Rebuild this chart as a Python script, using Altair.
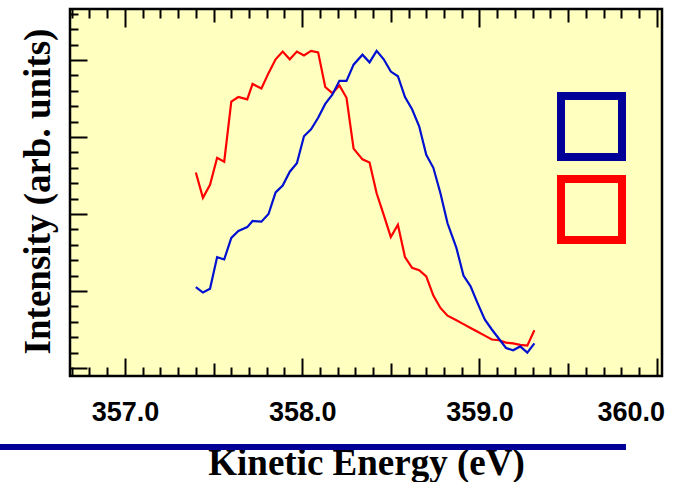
import altair as alt
import pandas as pd

# ---- data ----
energy = [357.40, 357.44, 357.48, 357.52, 357.56, 357.60, 357.64, 357.69, 357.72, 357.77,
          357.81, 357.85, 357.89, 357.93, 357.97, 358.01, 358.05, 358.09, 358.13, 358.17,
          358.21, 358.25, 358.29, 358.34, 358.38, 358.42, 358.46, 358.50, 358.54, 358.58,
          358.62, 358.66, 358.70, 358.74, 358.78, 358.82, 358.87, 358.91, 358.95, 358.99,
          359.03, 359.07, 359.11, 359.15, 359.19, 359.23, 359.27, 359.31]

red_intensity = [2.54, 2.21, 2.38, 2.73, 2.68, 3.46, 3.52, 3.49, 3.69, 3.63,
                 3.83, 4.01, 4.11, 4.01, 4.11, 4.06, 4.12, 4.10, 3.65, 3.57,
                 3.67, 3.51, 2.85, 2.71, 2.67, 2.27, 1.99, 1.70, 1.86, 1.44,
                 1.30, 1.27, 1.19, 0.94, 0.78, 0.68, 0.62, 0.57, 0.52, 0.47,
                 0.42, 0.37, 0.36, 0.33, 0.32, 0.30, 0.29, 0.49]

blue_intensity = [1.05, 0.98, 1.03, 1.44, 1.41, 1.69, 1.78, 1.83, 1.91, 1.90,
                  2.00, 2.28, 2.37, 2.55, 2.66, 3.01, 3.10, 3.25, 3.43, 3.55,
                  3.73, 3.73, 3.94, 4.07, 3.97, 4.12, 4.01, 3.85, 3.79, 3.52,
                  3.36, 3.14, 2.77, 2.60, 2.27, 1.88, 1.56, 1.20, 1.06, 0.84,
                  0.63, 0.50, 0.38, 0.26, 0.23, 0.28, 0.20, 0.32]

series_names = ["Spectrum 1", "Spectrum 2"]          # blue, red
legend_keys = ["1", "2"]                              # unlabeled legend boxes, same order
line_colors = ["#0010D0", "#FF0000"]
legend_colors = ["#000099", "#FF0000"]

x_label_values = [357.0, 358.0, 359.0, 360.0]
x_tick_values = [round(356.7 + 0.1 * i, 1) for i in range(34)]
y_tick_values = [round(0.2 * i, 1) for i in range(24)]

x_domain = [356.69, 360.03]
y_domain = [-0.104, 4.663]

df = pd.concat([
    pd.DataFrame({"energy": energy, "intensity": red_intensity,
                  "series": series_names[1], "key": legend_keys[1]}),
    pd.DataFrame({"energy": energy, "intensity": blue_intensity,
                  "series": series_names[0], "key": legend_keys[0]}),
], ignore_index=True)

W, H = 592, 367
xs = alt.Scale(domain=x_domain, nice=False, zero=False)
ys = alt.Scale(domain=y_domain, nice=False, zero=False)

major = "abs(datum.value - round(datum.value)) < 0.001"
half = "abs(datum.value * 2 - round(datum.value * 2)) < 0.001"
x_tick_size = {"condition": [{"test": major, "value": 18}, {"test": half, "value": 13}], "value": 9}
y_tick_size = {"condition": {"test": major, "value": 17}, "value": 8}

base = alt.Chart(df)

lines = base.mark_line(strokeWidth=2.2).encode(
    x=alt.X("energy:Q", scale=xs, axis=alt.Axis(
        orient="bottom", values=x_label_values, format=".1f", ticks=False, tickSize=0,
        domain=False, grid=False, labelOverlap=False, labelBound=False,
        labelFont="Liberation Sans", labelFontWeight="bold", labelFontSize=27,
        labelColor="black", labelBaseline="alphabetic", labelPadding=44,
        labelOffset={"condition": {"test": "datum.value == 360", "value": -26}, "value": 0},
        title="Kinetic Energy (eV)", titleFont="Liberation Serif", titleFontWeight="bold",
        titleFontSize=37, titleColor="black", titleX=296, titleY=98,
        titleAlign="center", titleBaseline="alphabetic")),
    y=alt.Y("intensity:Q", scale=ys, axis=alt.Axis(
        orient="left", labels=False, ticks=False, domain=False, grid=False,
        title="Intensity (arb. units)", titleFont="Liberation Serif", titleFontWeight="bold",
        titleFontSize=37, titleColor="black", titleX=-32, titleY=182, titleAngle=270,
        titleAlign="center", titleBaseline="middle")),
    color=alt.Color("series:N", scale=alt.Scale(domain=series_names, range=line_colors), legend=None),
)

ticks_bl = base.mark_point(opacity=0).encode(
    x=alt.X("energy:Q", scale=xs, axis=alt.Axis(
        orient="top", offset=-H, values=x_tick_values, labels=False, domain=False, grid=False,
        title=None, tickSize=x_tick_size, tickWidth=2, tickColor="black")),
    y=alt.Y("intensity:Q", scale=ys, axis=alt.Axis(
        orient="right", offset=-W, values=y_tick_values, labels=False, domain=False, grid=False,
        title=None, tickSize=y_tick_size, tickWidth=2, tickColor="black")),
)

ticks_top = base.mark_point(opacity=0).encode(
    x=alt.X("energy:Q", scale=xs, axis=alt.Axis(
        orient="bottom", offset=-H, values=x_tick_values, labels=False, domain=False, grid=False,
        title=None, tickSize=x_tick_size, tickWidth=2, tickColor="black")),
    y=alt.Y("intensity:Q", scale=ys, axis=None),
)

# legend-only layer: zero-size points; the legend draws the two boxed squares
legend_layer = base.mark_point(filled=False, shape="square", size=0, opacity=1).encode(
    x=alt.X("energy:Q", scale=xs, axis=None),
    y=alt.Y("intensity:Q", scale=ys, axis=None),
    stroke=alt.Stroke("key:N", scale=alt.Scale(domain=legend_keys, range=legend_colors),
                      legend=alt.Legend(orient="none", legendX=487, legendY=83, title=None,
                                        symbolType="square", symbolSize=3721, symbolStrokeWidth=8,
                                        symbolOpacity=1, labelExpr="''", padding=0,
                                        rowPadding=-10, direction="vertical")),
)

bar = alt.Chart(pd.DataFrame({"k": [0]})).mark_rule(color="#000099", strokeWidth=6).encode(
    x=alt.value(-70), x2=alt.value(556), y=alt.value(438)
)

chart = alt.layer(lines, ticks_bl, ticks_top, legend_layer, bar).resolve_axis(
    x="independent", y="independent"
).properties(
    width=W, height=H,
    autosize=alt.AutoSizeParams(type="none"),
    padding={"left": 70, "top": 9, "right": 38, "bottom": 106},
    background="white",
).configure_view(fill="#FFFFC0", stroke="black", strokeWidth=2.5)

chart.save("out.html", embed_options={"renderer": "svg", "actions": False})
